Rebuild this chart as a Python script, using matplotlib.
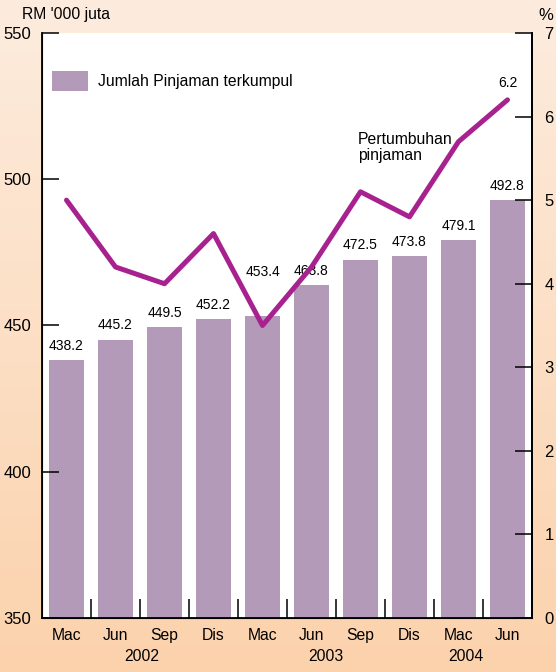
import matplotlib.pyplot as plt
import numpy as np

plt.rcParams['font.family'] = ['Liberation Sans', 'DejaVu Sans']

# Data
bulan = ["Mac", "Jun", "Sep", "Dis", "Mac", "Jun", "Sep", "Dis", "Mac", "Jun"]
tahun = ["2002", "2003", "2004"]
pinjaman = [438.2, 445.2, 449.5, 452.2, 453.4, 463.8, 472.5, 473.8, 479.1, 492.8]
pertumbuhan = [5.0, 4.2, 4.0, 4.6, 3.5, 4.2, 5.1, 4.8, 5.7, 6.2]

bar_color = "#b39ab8"
line_color = "#a8228f"

fig = plt.figure(figsize=(5.56, 6.72), dpi=100)

# Latar belakang kecerunan
bg = fig.add_axes([0, 0, 1, 1], zorder=-10)
top = np.array([253, 236, 222]) / 255
bot = np.array([251, 210, 172]) / 255
t = np.linspace(0, 1, 256)[:, None]
grad = top * (1 - t) + bot * t
bg.imshow(grad[:, None, :], aspect="auto", extent=[0, 1, 0, 1])
bg.axis("off")

W, H = 556, 672
ax = fig.add_axes([42 / W, 1 - 618 / H, 490 / W, 585 / H])
ax.set_facecolor("white")

x = np.arange(len(pinjaman))
ax.bar(x, [p - 350 for p in pinjaman], bottom=350, width=0.71, color=bar_color,
       label="Jumlah Pinjaman terkumpul")
for i, (xi, p) in enumerate(zip(x, pinjaman)):
    # label Mac 2003 dinaikkan supaya tidak bertindih dengan garisan
    dy = 12.5 if i == 4 else 2.5
    ax.text(xi, p + dy, f"{p:.1f}", ha="center", va="bottom", fontsize=10)

ax.set_xlim(-0.5, len(pinjaman) - 0.5)
ax.set_ylim(350, 550)
ax.set_yticks([350, 400, 450, 500, 550])
ax.set_xticks(x)
ax.set_xticklabels(bulan, fontsize=11.3)
ax.set_xticks(np.arange(0.5, len(pinjaman) - 0.5, 1), minor=True)
ax.tick_params(axis="x", which="major", length=0, pad=7)
ax.tick_params(axis="x", which="minor", direction="in", length=14, width=1.1)
ax.tick_params(axis="y", direction="in", length=12, width=1.1, labelsize=12, pad=8)
ax.spines["top"].set_visible(False)
for s in ["left", "bottom", "right"]:
    ax.spines[s].set_linewidth(1.3)

ax2 = ax.twinx()
ax2.plot(x, pertumbuhan, color=line_color, linewidth=3.6, solid_joinstyle="round",
         solid_capstyle="round")
ax2.set_ylim(0, 7)
ax2.set_yticks(range(0, 8))
ax2.tick_params(axis="y", direction="in", length=12, width=1.1, labelsize=12, pad=9)
ax2.spines["top"].set_visible(False)
ax2.spines["right"].set_linewidth(1.3)
ax2.text(x[-1], pertumbuhan[-1] + 0.12, "6.2", ha="center", va="bottom", fontsize=10)
ax2.text(5.95, 5.45, "Pertumbuhan\npinjaman", ha="left", va="bottom", fontsize=11.3,
         linespacing=1.05)

ax.legend(loc="upper left", bbox_to_anchor=(-0.008, 0.96), frameon=False, fontsize=11.3,
          handlelength=2.3, handleheight=1.6, handletextpad=0.6)

# Label paksi dan tahun
fig.text(22 / W, 1 - 14 / H, "RM '000 juta", fontsize=11.3, va="center", ha="left")
fig.text(546 / W, 1 - 16 / H, "%", fontsize=12, va="center", ha="center")
for label, xp in zip(tahun, [1.53, 5.3, 8.15]):
    ax.text(xp, -0.053, label, transform=ax.get_xaxis_transform(), ha="center",
            va="top", fontsize=11.3)

fig.savefig("out.png", dpi=100)
